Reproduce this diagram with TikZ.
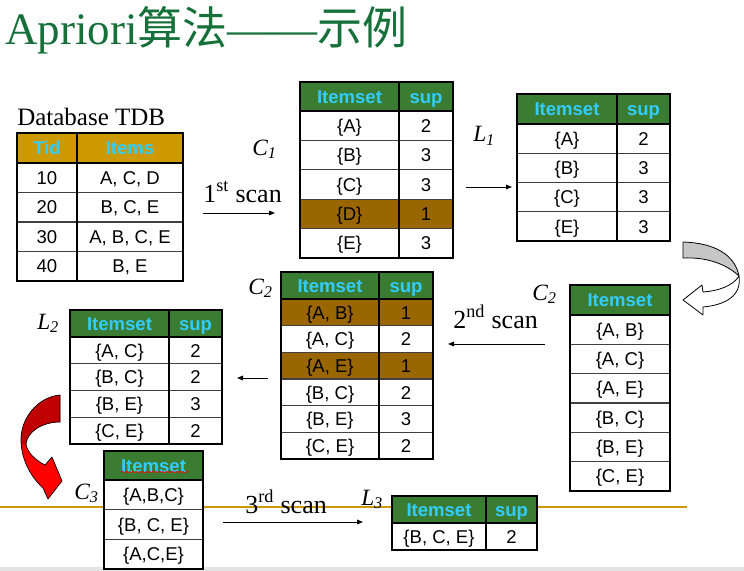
\documentclass[tikz,border=0pt]{standalone}
\usepackage{fontspec}
\setmainfont{Liberation Serif}
\setsansfont{Liberation Sans}
\newfontfamily\cjk{Noto Sans CJK SC}
\usetikzlibrary{arrows.meta,decorations.pathmorphing}
\definecolor{hdrgreen}{HTML}{3A7D32}
\definecolor{hdrgold}{HTML}{CC9900}
\definecolor{hlbrown}{HTML}{996600}
\definecolor{hdrtext}{HTML}{33CCFF}
\definecolor{titlegreen}{HTML}{16703A}
\definecolor{linegold}{HTML}{CC9900}
\definecolor{darkred}{HTML}{C00000}
\definecolor{brightred}{HTML}{FF0000}
\definecolor{bandgray}{HTML}{E3E3E3}

\tikzset{
  cell/.style={font=\sffamily\fontsize{13.9}{16}\selectfont, inner sep=0pt, text height=10pt, text depth=0pt},
  hcell/.style={font=\sffamily\bfseries\fontsize{13.9}{16}\selectfont, text=hdrtext, inner sep=0pt, text height=10pt, text depth=0pt},
  border/.style={line width=1.5pt},
  rowline/.style={line width=0.8pt, black!75},
  lbl/.style={font=\fontsize{18.75}{22}\selectfont, inner sep=0pt, anchor=base west},
  setlbl/.style={font=\itshape\fontsize{17.5}{20}\selectfont, inner sep=0pt, anchor=base west},
  scanarrow/.style={-{Triangle[length=4.5pt,width=3.5pt]}, line width=0.75pt},
}

% name, xl, xm, xr, ytop, yhead, rowh, ybot, rows
\newcommand\twotab[9]{%
  \fill[white] (#2,#5) rectangle (#4,#8);
  \fill[\hdfill] (#2,#5) rectangle (#4,#6);
  \node[hcell] (#1-h-a) at ({(#2+#3)/2},{(#5+#6)/2}) {\hA};
  \node[hcell] (#1-h-b) at ({(#3+#4)/2},{(#5+#6)/2}) {\hB};
  \foreach \ca/\cb/\hl [count=\i] in {#9} {
    \pgfmathsetmacro\yt{#6+(\i-1)*#7}
    \pgfmathsetmacro\yb{#6+\i*#7}
    \ifnum\hl=1 \fill[hlbrown] (#2,\yt) rectangle (#4,\yb);\fi
  }
  \foreach \ca/\cb/\hl [count=\i] in {#9} {
    \pgfmathsetmacro\yt{#6+(\i-1)*#7}
    \pgfmathsetmacro\yb{#6+\i*#7}
    \draw[rowline] (#2,\yb) -- (#4,\yb);
    \node[cell] (#1-\i-a) at ({(#2+#3)/2},{(\yt+\yb)/2}) {\ca};
    \node[cell] (#1-\i-b) at ({(#3+#4)/2},{(\yt+\yb)/2}) {\cb};
  }
  \draw[border] (#2,#6) -- (#4,#6);
  \draw[border] (#3,#5) -- (#3,#8);
  \draw[border] (#2,#5) rectangle (#4,#8);
}

% name, xl, xr, ytop, yhead, rowh, ybot, rows
\newcommand\onetab[8]{%
  \fill[white] (#2,#4) rectangle (#3,#7);
  \fill[hdrgreen] (#2,#4) rectangle (#3,#5);
  \node[hcell] (#1-h) at ({(#2+#3)/2},{(#4+#5)/2}) {Itemset};
  \foreach \ca [count=\i] in {#8} {
    \pgfmathsetmacro\yb{#5+\i*#6}
    \draw[rowline] (#2,\yb) -- (#3,\yb);
    \node[cell] (#1-\i) at ({(#2+#3)/2},{\yb-#6/2}) {\ca};
  }
  \draw[border] (#2,#5) -- (#3,#5);
  \draw[border] (#2,#4) rectangle (#3,#7);
}

\begin{document}
\begin{tikzpicture}[x=0.75pt,y=-0.75pt]
\useasboundingbox (0,0) rectangle (744,571);
\fill[white] (0,0) rectangle (744,571);

% bottom band and gold line
\fill[bandgray] (0,567) rectangle (744,571);
\draw[linegold, line width=1.5pt] (0,507) -- (687,507);

% title
\node[anchor=base west, inner sep=0pt, text=titlegreen,
      font=\fontsize{33.75}{40}\selectfont] (title) at (5,45) {Apriori{\cjk 算法}——{\cjk 示例}};

% Database TDB
\node[lbl] (tdblabel) at (17,125) {Database TDB};
\def\hdfill{hdrgold}\def\hA{Tid}\def\hB{Items}
\twotab{tdb}{17}{77}{183}{133}{163}{29.5}{281}{10/{A, C, D}/0, 20/{B, C, E}/0, 30/{A, B, C, E}/0, 40/{B, E}/0}

% C1
\def\hdfill{hdrgreen}\def\hA{Itemset}\def\hB{sup}
\twotab{cone}{300}{399}{453}{82}{111}{29.4}{258}{\{A\}/2/0, \{B\}/3/0, \{C\}/3/0, \{D\}/1/1, \{E\}/3/0}
\node[setlbl] (conelabel) at (252,155) {C\textsubscript{1}};

% L1
\twotab{lone}{517}{617}{670}{94}{124}{29.25}{241}{\{A\}/2/0, \{B\}/3/0, \{C\}/3/0, \{E\}/3/0}
\node[setlbl] (lonelabel) at (473,142) {L\textsubscript{1}};

% C2 right
\onetab{ctwor}{570}{670}{285}{315}{29.33}{491}{{\{A, B\}}, {\{A, C\}}, {\{A, E\}}, {\{B, C\}}, {\{B, E\}}, {\{C, E\}}}
\node[setlbl] (ctworlabel) at (532,300) {C\textsubscript{2}};

% C2 middle
\twotab{ctwo}{281}{379}{433}{272}{299}{26.67}{459}{{\{A, B\}}/1/1, {\{A, C\}}/2/0, {\{A, E\}}/1/1, {\{B, C\}}/2/0, {\{B, E\}}/3/0, {\{C, E\}}/2/0}
\node[setlbl] (ctwolabel) at (248,294) {C\textsubscript{2}};

% L2
\twotab{ltwo}{70}{169}{222}{310}{337}{26.75}{444}{{\{A, C\}}/2/0, {\{B, C\}}/2/0, {\{B, E\}}/3/0, {\{C, E\}}/2/0}
\node[setlbl] (ltwolabel) at (37,329) {L\textsubscript{2}};

% C3
\onetab{cthree}{104}{203}{451}{480}{29.67}{569}{{\{A,B,C\}}, {\{B, C, E\}}, {\{A,C,E\}}}
\draw[red, line width=0.4pt, decorate, decoration={snake, amplitude=0.6pt, segment length=2.5pt}] (122,472) -- (189,472);
\node[setlbl] (cthreelabel) at (74,499) {C\textsubscript{3}};

% L3
\twotab{lthree}{392}{486}{537}{496}{523}{27}{550}{{\{B, C, E\}}/2/0}
\node[setlbl] (lthreelabel) at (361,505) {L\textsubscript{3}};

% scan labels
\node[lbl, font=\fontsize{19.5}{22}\selectfont] (scanone) at (203,202) {1\textsuperscript{st} scan};
\node[lbl, font=\fontsize{19.5}{22}\selectfont] (scantwo) at (453,328) {2\textsuperscript{nd} scan};
\node[lbl, font=\fontsize{19.5}{22}\selectfont] (scanthree) at (245,513) {3\textsuperscript{rd} scan};

% arrows
\coordinate (a1s) at (203,213); \coordinate (a1e) at (275,213);
\coordinate (a2s) at (466,187); \coordinate (a2e) at (512,187);
\coordinate (a3s) at (545,344); \coordinate (a3e) at (448,344);
\coordinate (a4s) at (268,378); \coordinate (a4e) at (237,378);
\coordinate (a5s) at (223,522); \coordinate (a5e) at (363,522);
\draw[scanarrow] (a1s) -- (a1e);
\draw[scanarrow] (a2s) -- (a2e);
\draw[scanarrow] (a3s) -- (a3e);
\draw[scanarrow] (a4s) -- (a4e);
\draw[scanarrow] (a5s) -- (a5e);

% gray curved arrow
\filldraw[fill=gray!45, line width=0.6pt, line join=round]
  (683,242) .. controls (715,243) and (735,255) .. (739,276)
  .. controls (725,263) and (705,257) .. (683,258) -- cycle;
\filldraw[fill=white, line width=0.6pt, line join=round]
  (739,276) .. controls (742,296) and (725,305) .. (703,307)
  -- (703,315) -- (683,300) -- (702,285) -- (703,292)
  .. controls (718,291) and (733,286) .. (739,276) -- cycle;

% red curved arrow
\path[save path=\redp]
  (60,395) .. controls (38,397) and (20,418) .. (21,442)
  .. controls (22,462) and (32,478) .. (43,488)
  -- (48,499) -- (62,481) -- (52,457) -- (45,465)
  .. controls (35,460) and (27,452) .. (26,444)
  .. controls (27,432) and (42,422) .. (60,422) -- cycle;
\fill[brightred, use path=\redp];
\begin{scope}
  \clip (0,380) rectangle (80,444);
  \fill[darkred, use path=\redp];
\end{scope}
\draw[line width=0.5pt, line join=round, use path=\redp];
\end{tikzpicture}
\end{document}
